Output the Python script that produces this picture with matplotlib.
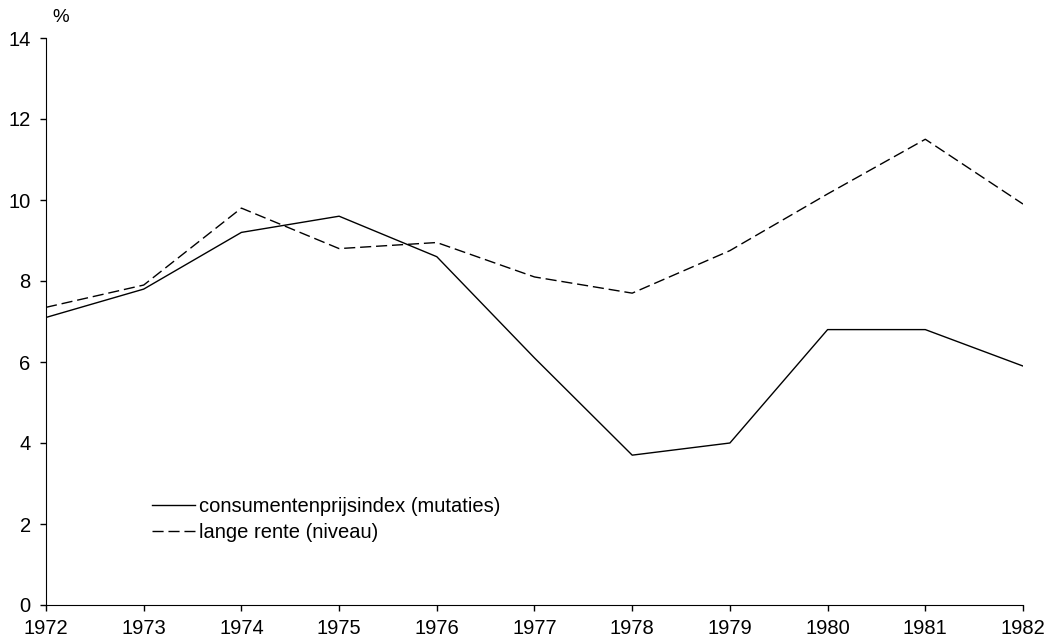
import matplotlib.pyplot as plt

plt.rcParams['font.family'] = ['Liberation Sans', 'DejaVu Sans']

years = [1972, 1973, 1974, 1975, 1976, 1977, 1978, 1979, 1980, 1981, 1982]
cpi = [7.1, 7.8, 9.2, 9.6, 8.6, 6.1, 3.7, 4.0, 6.8, 6.8, 5.9]
rente = [7.35, 7.9, 9.8, 8.8, 8.95, 8.1, 7.7, 8.75, 10.15, 11.5, 9.9]

fig = plt.figure(figsize=(10.49, 6.41), dpi=100)
# axes box in pixels: x 46..1023, y 38..605
ax = fig.add_axes([46 / 1049, 1 - 605 / 641, 977 / 1049, 567 / 641])

ax.plot(years, cpi, color='black', lw=1.0, label='consumentenprijsindex (mutaties)')
ax.plot(years, rente, color='black', lw=1.0, ls=(0, (8, 3.5)), label='lange rente (niveau)')

ax.set_xlim(1972, 1982)
ax.set_ylim(0, 14)
ax.set_xticks(years)
ax.set_yticks(range(0, 15, 2))
ax.tick_params(labelsize=14.5, length=4.5, width=1, direction='out')
ax.tick_params(axis='x', pad=5.5)
ax.tick_params(axis='y', pad=6.5)
ax.spines['top'].set_visible(False)
ax.spines['right'].set_visible(False)
ax.text(0.007, 1.022, '%', transform=ax.transAxes, fontsize=13.5, ha='left', va='bottom')

ax.legend(loc='center left', bbox_to_anchor=(0.109, 0.151), frameon=False, borderpad=0,
          borderaxespad=0, fontsize=14.5, handlelength=2.1, handletextpad=0.2, labelspacing=0.35)

fig.savefig('out.png', dpi=100)
